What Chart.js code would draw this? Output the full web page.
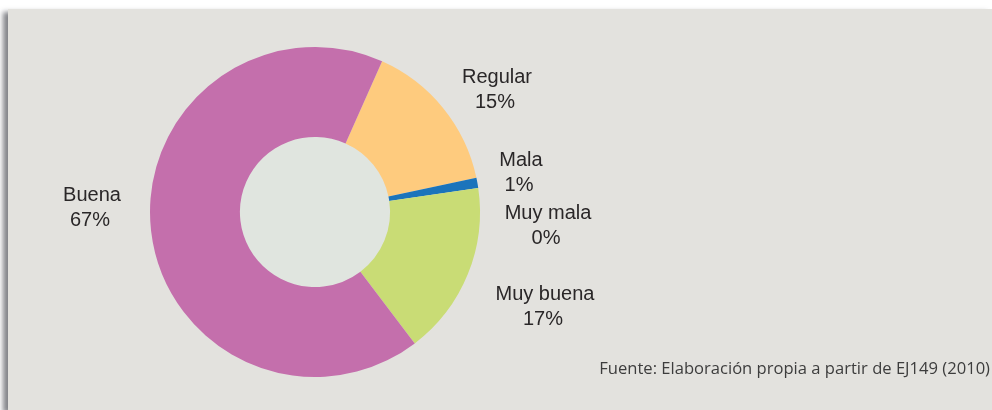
<!DOCTYPE html>
<html lang="es">
<head>
<meta charset="utf-8">
<title>Valoración</title>
<script src="https://cdn.jsdelivr.net/npm/chart.js@4.4.1/dist/chart.umd.min.js"></script>
<style>
  html, body { margin: 0; padding: 0; background: #ffffff; overflow: hidden; }
  #panel {
    position: absolute; left: 8px; top: 9px; width: 984px; height: 401px;
    background: #e3e2de;
    box-shadow: -5px 3px 5px rgba(110, 112, 118, 0.85);
  }
  #wrap { position: absolute; left: 0; top: 0; width: 992px; height: 410px; }
</style>
</head>
<body>
<div id="panel"></div>
<div id="wrap"><canvas id="chart" width="992" height="410"></canvas></div>
<script>
// Categorías y porcentajes de la valoración
const categories = ['Regular', 'Mala', 'Muy mala', 'Muy buena', 'Buena'];
const percents = [15, 1, 0, 17, 67];
const colors = ['#fecb7e', '#1b74bb', '#6b8fc8', '#c9dc75', '#c46fac'];
const sourceNote = 'Fuente: Elaboración propia a partir de EJ149 (2010)';

// Ubicación de cada rótulo (x del centro, línea base de la primera línea)
const labelSpots = [
  { x: 497, y: 83 },
  { x: 521, y: 166 },
  { x: 548, y: 219 },
  { x: 545, y: 300 },
  { x: 92, y: 201 }
];

const labelsPlugin = {
  id: 'sliceLabels',
  beforeDatasetsDraw(chart) {
    // círculo central claro
    const arc = chart.getDatasetMeta(0).data[0];
    if (!arc) return;
    const ctx = chart.ctx;
    ctx.save();
    ctx.fillStyle = '#e0e5df';
    ctx.beginPath();
    ctx.arc(arc.x, arc.y, arc.innerRadius, 0, Math.PI * 2);
    ctx.fill();
    ctx.restore();
  },
  afterDraw(chart) {
    const ctx = chart.ctx;
    ctx.save();
    ctx.fillStyle = '#2a2728';
    ctx.font = '20px "Liberation Sans", Arial, sans-serif';
    ctx.textAlign = 'center';
    ctx.textBaseline = 'alphabetic';
    categories.forEach((name, i) => {
      const s = labelSpots[i];
      ctx.fillText(name, s.x, s.y);
      ctx.fillText(percents[i] + '%', s.x - 2, s.y + 24.5);
    });
    // nota de fuente
    ctx.fillStyle = '#3d3d3d';
    ctx.textAlign = 'right';
    let size = 15;
    ctx.font = size + 'px "Open Sans", Lato, sans-serif';
    const w = ctx.measureText(sourceNote).width;
    size = size * 391 / w;
    ctx.font = size.toFixed(2) + 'px "Open Sans", Lato, sans-serif';
    ctx.fillText(sourceNote, 990, 374);
    ctx.restore();
  }
};

new Chart(document.getElementById('chart'), {
  type: 'doughnut',
  data: {
    labels: categories,
    datasets: [{
      data: percents,
      backgroundColor: colors,
      borderWidth: 0
    }]
  },
  options: {
    responsive: false,
    animation: false,
    rotation: 24,
    cutout: '45.5%',
    layout: { padding: { left: 150, right: 512, top: 47, bottom: 33 } },
    plugins: {
      legend: { display: false },
      tooltip: { enabled: false }
    }
  },
  plugins: [labelsPlugin]
});
</script>
</body>
</html>
